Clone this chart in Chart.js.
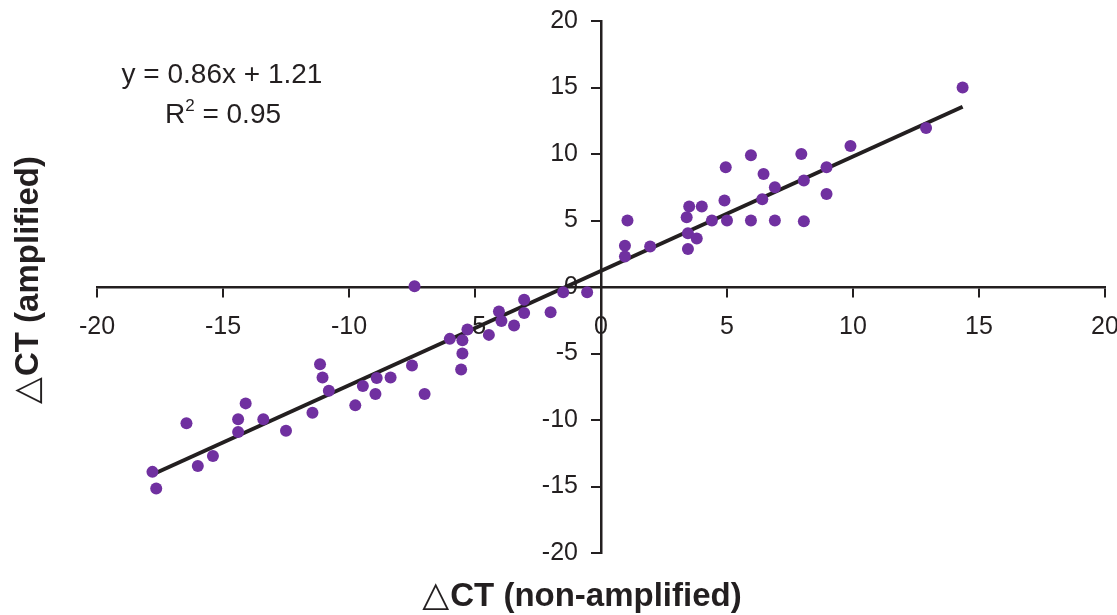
<!DOCTYPE html>
<html>
<head>
<meta charset="utf-8">
<script src="https://cdn.jsdelivr.net/npm/chart.js@4.4.1/dist/chart.umd.min.js"></script>
<style>
  html, body { margin: 0; padding: 0; background: #fff; }
  #wrap { width: 1117px; height: 615px; position: relative; }
</style>
</head>
<body>
<div id="wrap"><canvas id="myChart"></canvas></div>
<script>
// delta CT values, one entry per sample
const nonAmplified = [
  -7.4, -5.3, -6.0, -5.5, -5.5, -5.55, -7.5, -7.0, -8.35, -8.9, -8.95, -9.45, -9.75,
  -11.15, -11.05, -10.8, -11.45, -12.5, -13.4, -14.1, -14.4, -14.4, -16.45, -15.4,
  -16.0, -17.8, -17.65, -4.45, -4.05, -3.95, -3.45, -3.05, -3.05, -2.0, -1.5, -0.55,
  14.35, 12.9, 9.9, 7.95, 5.95, 4.95, 6.45, 8.95, 8.05, 6.9, 6.4, 4.9, 8.95, 3.5,
  4.0, 3.4, 1.05, 4.4, 5.0, 5.95, 6.9, 8.05, 3.45, 3.8, 0.95, 1.95, 3.45, 0.95,
];
const amplified = [
  0.05, -3.2, -3.9, -4.0, -5.0, -6.2, -5.9, -8.05, -6.8, -6.85, -8.05, -7.45, -8.9,
  -5.8, -6.8, -7.8, -9.45, -10.8, -9.95, -8.75, -9.95, -10.9, -10.25, -12.7,
  -13.45, -13.9, -15.15, -3.6, -1.85, -2.55, -2.9, -0.95, -1.95, -1.9, -0.4, -0.4,
  15.0, 11.95, 10.6, 10.0, 9.9, 9.0, 8.5, 9.0, 8.0, 7.5, 6.6, 6.5, 7.0, 6.05,
  6.05, 5.25, 5.0, 5.0, 5.0, 5.0, 5.0, 4.95, 4.05, 3.65, 3.1, 3.05, 2.85, 2.3,
];

// trendline as printed on the chart
const fitSlope = 0.86;
const fitIntercept = 1.21;
const fitR2 = 0.95;

const xTitle = "CT (non-amplified)";
const yTitle = "CT (amplified)";
const delta = "\u25B3";

const ink = "#231f20";
const purple = "#7030a0";
const family = "'Liberation Sans', Arial, sans-serif";
const tickLen = 9;
const yLabelGap = 14;

const points = nonAmplified.map((x, i) => ({ x: x, y: amplified[i] }));
const xMin = Math.min(...nonAmplified);
const xMax = Math.max(...nonAmplified);
const fitLine = [xMin, xMax].map((x) => ({ x: x, y: fitSlope * x + fitIntercept }));

function drawTitle(ctx, text, cx, base, angle) {
  ctx.save();
  ctx.translate(cx, base);
  ctx.rotate(angle);
  ctx.textBaseline = "alphabetic";
  ctx.textAlign = "left";
  const triFont = "35px 'DejaVu Sans', sans-serif";
  const txtFont = "bold 33px " + family;
  ctx.font = triFont;
  const wTri = ctx.measureText(delta).width;
  ctx.font = txtFont;
  const wTxt = ctx.measureText(text).width;
  const gap = 1;
  const start = -(wTri + gap + wTxt) / 2;
  ctx.font = triFont;
  ctx.fillText(delta, start, 0);
  ctx.font = txtFont;
  ctx.fillText(text, start + wTri + gap, 0);
  ctx.restore();
}

// y labels of a centred axis sit right on the axis line; move them left of the ticks
const yLabelShift = {
  id: "yLabelShift",
  beforeDraw(chart) {
    const items = chart.scales.y.getLabelItems();
    items.forEach((it) => {
      if (!it._shifted) {
        it.options.translation[0] -= tickLen + yLabelGap;
        it._shifted = true;
      }
    });
  },
};

const textPlugin = {
  id: "chartText",
  afterDraw(chart) {
    const ctx = chart.ctx;
    ctx.save();
    ctx.fillStyle = ink;
    ctx.textBaseline = "alphabetic";

    // equation
    ctx.font = "28px " + family;
    ctx.textAlign = "center";
    ctx.fillText("y = " + fitSlope + "x + " + fitIntercept, 222, 83);

    // R squared with superscript
    const r = "R";
    const sup = "2";
    const rest = " = " + fitR2.toFixed(2);
    ctx.textAlign = "left";
    ctx.font = "28px " + family;
    const wR = ctx.measureText(r).width;
    const wRest = ctx.measureText(rest).width;
    ctx.font = "17px " + family;
    const wSup = ctx.measureText(sup).width;
    let x0 = 223 - (wR + wSup + wRest) / 2;
    ctx.font = "28px " + family;
    ctx.fillText(r, x0, 123);
    ctx.font = "17px " + family;
    ctx.fillText(sup, x0 + wR, 111);
    ctx.font = "28px " + family;
    ctx.fillText(rest, x0 + wR + wSup, 123);

    drawTitle(ctx, xTitle, 582, 606, 0);
    drawTitle(ctx, yTitle, 38, 280, -Math.PI / 2);
    ctx.restore();
  },
};

const tickFont = { family: family, size: 25 };

new Chart(document.getElementById("myChart"), {
  type: "scatter",
  data: {
    datasets: [
      {
        label: "samples",
        data: points,
        backgroundColor: purple,
        borderWidth: 0,
        pointRadius: 6,
        order: 0,
      },
      {
        type: "line",
        label: "trend",
        data: fitLine,
        borderColor: ink,
        borderWidth: 4,
        pointRadius: 0,
        fill: false,
        order: 1,
      },
    ],
  },
  options: {
    responsive: true,
    maintainAspectRatio: false,
    animation: false,
    layout: { padding: { left: 97, right: 12, top: 21, bottom: 62 } },
    plugins: { legend: { display: false }, tooltip: { enabled: false } },
    scales: {
      x: {
        type: "linear",
        position: { y: 0 },
        min: -20,
        max: 20,
        ticks: { stepSize: 5, autoSkip: false, maxRotation: 0, padding: 16, color: ink, font: tickFont },
        grid: { drawOnChartArea: false, drawTicks: true, tickLength: tickLen, color: ink, lineWidth: 2 },
        border: { display: true, color: ink, width: 2.5 },
        afterFit(scale) {
          scale.height = 0;
          scale.paddingLeft = 0;
          scale.paddingRight = 0;
        },
      },
      y: {
        type: "linear",
        position: { x: 0 },
        min: -20,
        max: 20,
        ticks: { stepSize: 5, autoSkip: false, padding: yLabelGap, color: ink, font: tickFont },
        grid: { drawOnChartArea: false, drawTicks: true, tickLength: tickLen, color: ink, lineWidth: 2 },
        border: { display: true, color: ink, width: 2.5 },
        afterFit(scale) {
          scale.width = 0;
          scale.paddingTop = 0;
          scale.paddingBottom = 0;
        },
      },
    },
  },
  plugins: [yLabelShift, textPlugin],
});
</script>
</body>
</html>
